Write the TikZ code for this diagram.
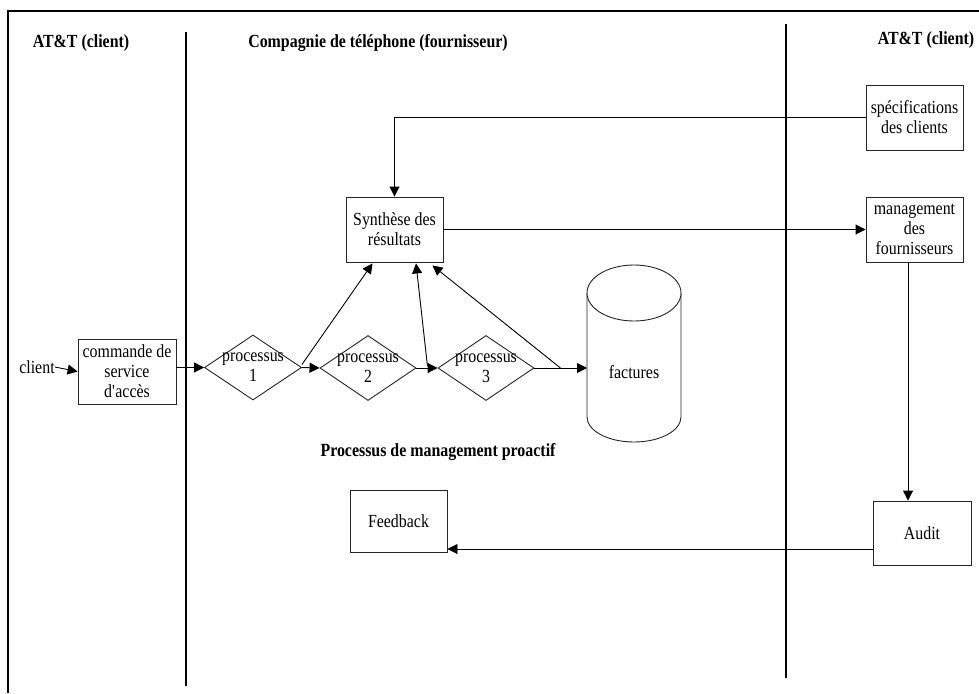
\documentclass[tikz,border=0pt]{standalone}
\usepackage{fontspec}
\setmainfont{Liberation Serif}[FakeStretch=0.86]
\usetikzlibrary{arrows.meta,shapes.geometric,calc}

\tikzset{
  txt/.style={font=\fontsize{18.5}{20}\selectfont, align=center, inner sep=0pt},
  head/.style={txt, font=\fontsize{18.5}{20}\selectfont\bfseries},
  box/.style={txt, draw=black!85, line width=0.9pt, minimum width=97pt, minimum height=65pt},
  proc/.style={diamond, draw=black!85, line width=0.9pt, minimum width=97pt, minimum height=65pt, inner sep=0pt},
  arr/.style={line width=0.9pt, -{Triangle[length=10pt,width=10pt]}},
  lane/.style={line width=2pt},
  frame/.style={line width=2.4pt}
}

\begin{document}
\begin{tikzpicture}[x=1pt,y=-1pt]
\useasboundingbox (0,0) rectangle (979,693);

% outer frame (top and left edges) and swimlane separators
\draw[frame] (8,693) -- (8,11) -- (979,11);
\draw[lane] (186,32) -- (186,686);
\draw[lane] (786,24) -- (786,678);

% lane headings
\node[head] (hleft) at (81,43) {AT\&T (client)};
\node[head] (hmid) at (378,43) {Compagnie de téléphone (fournisseur)};
\node[head] (hright) at (926,40) {AT\&T (client)};
\node[head] (hproc) at (438,452) {Processus de management proactif};

% boxes
\node[txt] (client) at (37,367) {client};
\node[box, minimum width=98pt] (cmd) at (127,371.5) {commande de\\service\\d\textquotesingle accès};
\node[box] (syn) at (394.5,229.5) {Synthèse des\\résultats};
\node[box] (spec) at (914.5,117.5) {spécifications\\des clients};
\node[box] (mgmt) at (914.5,229.5) {management\\des\\fournisseurs};
\node[box, minimum width=98pt, minimum height=64pt] (audit) at (922,533) {Audit};
\node[box, minimum height=62pt] (fb) at (398.5,521) {Feedback};

% process steps
\node[proc] (d1) at (253,367.5) {};
\node[txt] (d1l) at (d1) {processus\\1};
\node[proc, minimum width=96pt] (d2) at (368,368) {};
\node[txt] (d2l) at (d2) {processus\\2};
\node[proc, minimum width=96pt] (d3) at (486,368) {};
\node[txt] (d3l) at (d3) {processus\\3};

% invoices store
\draw[line width=0.9pt, black!85] (587,293) -- (587,417)
  arc[start angle=180, end angle=360, x radius=47pt, y radius=25pt] -- (681,293);
\draw[line width=0.9pt, black!85, fill=white] (634,293) ellipse [x radius=47pt, y radius=28pt];
\node[txt] (cyl) at (634,372) {factures};
\coordinate (cylW) at (587,368);

% flow connectors
\draw[arr] (client.east) -- (cmd.west);
\draw[arr] (cmd.east |- d1.west) -- (d1.west);
\draw[arr] (d1.east) -- (d2.west);
\draw[arr] (d2.east) -- (d3.west);
\draw[arr] (d3.east) -- (cylW);

% results feed into the synthesis
\draw[arr] ($(d1.east)+(0,-3)$) -- ($(syn.south)+(-22,1)$);
\draw[arr] ($(d2.east)+(11,-2)$) -- ($(syn.south)+(21.5,1)$);
\draw[arr] ($(d3.east)+(26,0)$) -- ($(syn.south east)+(-11,3)$);

% client side loops
\draw[arr] (spec.west) -| (syn.north);
\draw[arr] (syn.east) -- (mgmt.west);
\draw[arr] ([xshift=-6.5pt]mgmt.south) -- ([xshift=-14pt]audit.north);
\draw[arr] ([yshift=-16pt]audit.west) -- ([yshift=-28pt]fb.east);
\end{tikzpicture}
\end{document}
